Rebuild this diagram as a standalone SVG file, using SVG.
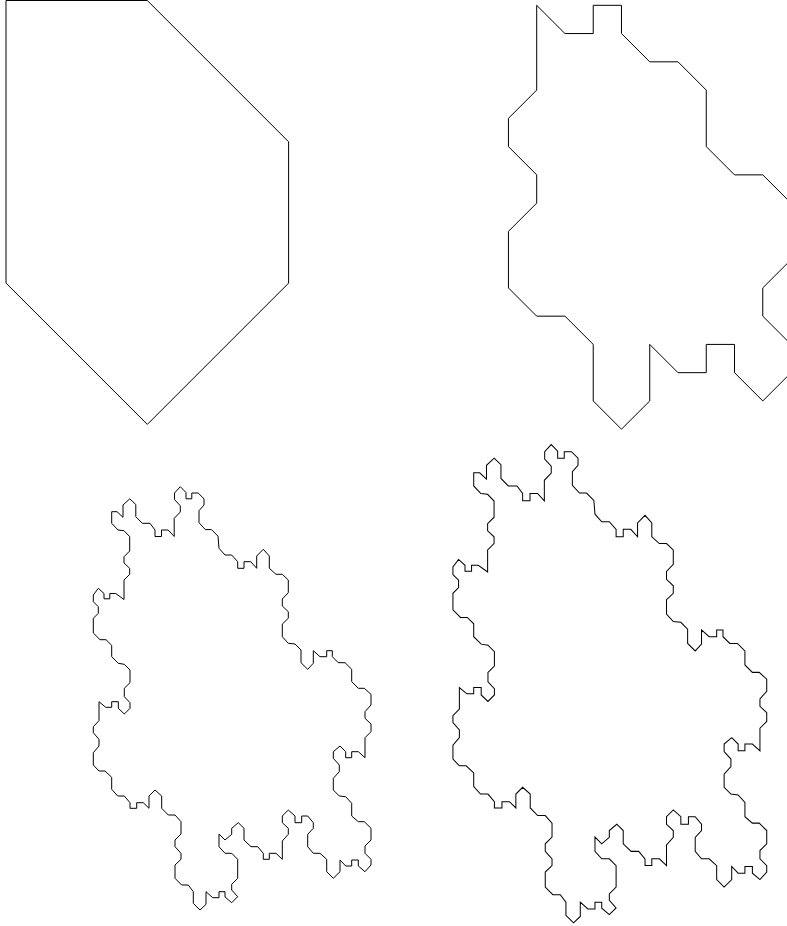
<svg xmlns="http://www.w3.org/2000/svg" xmlns:xlink="http://www.w3.org/1999/xlink" width="787" height="926" viewBox="0 0 787 926">
<style>
.c{fill:none;stroke:#000;stroke-width:1;stroke-linejoin:miter}
</style>
<defs>
<polygon id="s3p" points="111.7,523.3 111.7,511.7 117,511.7 123,517.3 123,505 129.8,498.8 135.8,504.5 135.8,516.7 142.3,523.3 150,523.3 155,530 155,536.5 161.5,536.5 161.5,530 168.2,530 174.2,536.5 174.2,518.3 180.3,512 180.3,505.8 174.5,499.5 174.5,493 180.3,486.7 186,492.5 186,498.8 191.8,498.8 191.8,493 198.2,493 204,498.8 204,505 199,510.7 199,522.7 205.3,529.6 211.5,529.6 218,536.2 219,548.3 225,555 231.7,555 237.7,561.7 237.7,568.3 244,568.3 244,561.7 250.7,561.7 256.7,568.3 256.7,556 263.3,549.3 269.3,556 269.3,568.3 276,574.3 282.3,574.3 288.3,580 288.3,592.7 282.3,599 282.3,606 288.3,611.7 288.3,618.3 282.3,624 282.3,636.7 288.3,643.3 295,644 301,650 301,662.7 307.7,669.3 313.3,663.3 313.3,650.7 320,656.7 326.7,656.7 326.7,650.7 332.3,650.7 332.3,656.7 338.3,662.7 345,662.7 351.7,669.3 351.7,681.7 358.3,688.3 364.3,688.3 371,694.3 371,705 365,711.7 365,718.3 371,724 371,731.7 365,737.7 365,757.7 358.3,751.7 351.7,751.7 351.7,757.7 345.7,757.7 345.7,751.7 340,746 333.3,751.7 333.3,758.3 339.3,765 339.3,771.7 333.3,778.3 333.3,790 339.3,796 345.7,796.7 351.7,803.3 351.7,816 358.3,821.7 364.3,821.7 371,828.3 371,840 365,846 365,853.3 371,859.3 371,865 365,871.7 358.3,866 358.3,860 351.7,860 351.7,866 345.7,866 340,860 340,871.7 333.3,878.3 326.7,871.7 326.7,859.3 320,853.3 313.3,853.3 307.7,846.7 307.7,834.3 313.3,828.3 313.3,822.7 307.7,816 301.7,816 301.7,822.7 295,822.7 295,816 288.3,810 282.3,816 282.3,822.7 288.3,828.3 288.3,834.3 282.3,841 282.3,859.3 276,853.3 269.3,853.3 269.3,859.3 263.3,859.3 263.3,853.3 257.7,846.7 251,846.7 244,840 244,828.3 238.3,822.7 231.7,828.3 231.7,834.3 225,840 219,834 219,846.7 225,853.3 231.7,853.3 237.7,859.3 237.7,878.3 231.7,884.3 231.7,890 237.7,896.7 231.7,902.7 225,897 225,891.7 219,891.7 219,897.7 212.7,897.7 206,891.7 206,904.3 200,910 193.3,903.3 193.3,891.7 188.3,885 181.7,885 175,878.3 175,865 181,859.3 181,853.3 175,846.7 175,840 181,834 181,821.7 175,815 168.3,815 161.7,808.3 161.7,796 155,790 149,796 149,808.3 143.3,802.7 136.7,802.7 136.7,808.3 130,808.3 130,802.7 124.3,796 117.7,796 111.7,789.3 111.7,777.3 105,771 99,771 93.3,765 93.3,752.7 99,746 99,739.3 93.3,732.7 93.3,726.7 99,720.7 99,701.7 105.7,707.3 111.7,707.3 111.7,701.7 118.3,701.7 118.3,708.3 124.3,714 130,708.3 130,702.7 124.3,696.7 124.3,688.3 130,682.7 130,670 124.3,664.3 118.3,663.3 111.7,656.7 111.7,645.3 106,639.7 100,639.7 93.3,633 93.3,618.3 98.3,613.3 98.3,606.7 93.3,601.7 93.3,595 98.3,588.3 104,593.5 104,598.8 109.8,598.8 109.8,593.5 115.7,593.5 124,599.5 124,580 129.7,574.3 129.7,568.3 124,563 124,556.7 129.7,551 129.7,536.7 124,530.7 118,530"/>
</defs>
<g id="shape1" class="c">
<polygon points="6,0.5 147.3,0.5 288.6,141.8 288.6,283.1 147.3,424.4 6,283.1"/>
</g>
<g id="shape2" class="c">
<polygon points="536.7,5.3 564.96,33.56 593.22,33.56 593.22,5.3 621.48,5.3 621.48,33.56 649.74,61.82 678,61.82 706.26,90.08 706.26,146.6 734.52,174.86 762.78,174.86 819.3,231.38 762.78,287.9 762.78,316.16 791.04,344.42 791.04,372.68 762.78,400.94 734.52,372.68 734.52,344.42 706.26,344.42 706.26,372.68 678,372.68 649.74,344.42 649.74,400.94 621.48,429.2 593.22,400.94 593.22,344.42 564.96,316.16 536.7,316.16 508.44,287.9 508.44,231.38 536.7,203.12 536.7,174.86 508.44,146.6 508.44,118.34 536.7,90.08"/>
</g>
<g id="shape3" class="c">
<use xlink:href="#s3p" href="#s3p"/>
</g>
<g id="shape4" class="c" transform="translate(347.5,-105.4) scale(1.13)" style="stroke-width:0.9">
<use xlink:href="#s3p" href="#s3p"/>
</g>
</svg>
